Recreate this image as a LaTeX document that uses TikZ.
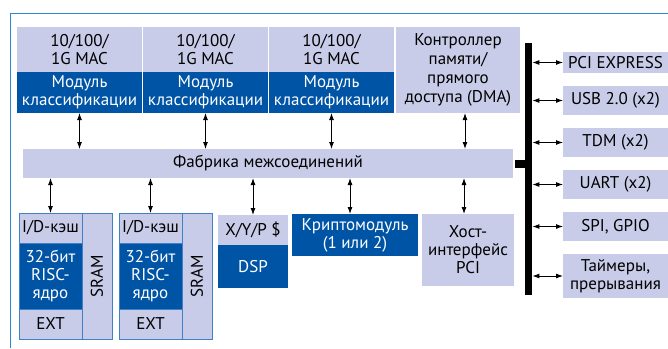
\documentclass[tikz,border=0pt]{standalone}
\usepackage{fontspec}
\setmainfont{PT Sans}
\usetikzlibrary{calc,arrows.meta}
\definecolor{lightblk}{HTML}{C8CCE8}
\definecolor{darkblk}{HTML}{0054A6}
\definecolor{edgeblk}{HTML}{3F80C6}
\definecolor{framecol}{HTML}{2E88CC}
\tikzset{
  blk/.style={anchor=north west, inner sep=0pt, outer sep=0pt, align=center, font=\fontsize{17}{18}\selectfont},
  light/.style={blk, fill=lightblk, text=black},
  dark/.style={blk, fill=darkblk, text=white},
  cpu/.style={draw=edgeblk, line width=0.9pt},
  link/.style={{Latex[length=7pt,width=5pt]}-{Latex[length=7pt,width=5pt]}, line width=0.9pt}
}

\begin{document}
\begin{tikzpicture}[x=1pt,y=-1pt]
  \useasboundingbox (0,0) rectangle (668,348);
  \draw[framecol, line width=0.9pt] (10,348) -- (10,13) -- (668,13);
  % MAC blocks
  \node[light, minimum width=125, minimum height=45] (mac1) at (17,27) {10/100/\\1G MAC};
  \node[dark, minimum width=125, minimum height=41] (cls1) at (17,72) {Модуль\\классификации};
  \node[light, minimum width=125, minimum height=45] (mac2) at (143,27) {10/100/\\1G MAC};
  \node[dark, minimum width=125, minimum height=41] (cls2) at (143,72) {Модуль\\классификации};
  \node[light, minimum width=125, minimum height=45] (mac3) at (269,27) {10/100/\\1G MAC};
  \node[dark, minimum width=125, minimum height=41] (cls3) at (269,72) {Модуль\\классификации};
  \node[light, minimum width=124, minimum height=86, font=\fontsize{17}{19}\selectfont] (dma) at (396,27) {Контроллер\\памяти/\\прямого\\доступа (DMA)};
  % fabric and bus
  \node[light, minimum width=490, minimum height=29] (fab) at (23,149) {Фабрика межсоединений};
  \node[fill=black, anchor=north west, inner sep=0pt, minimum width=7, minimum height=252] (bus) at (525,43) {};
  \fill (515,160) rectangle (525,168);
  % CPU blocks
  \node[light, cpu, minimum width=63, minimum height=30] (cache1) at (19,213) {I/D-кэш};
  \node[dark, cpu, minimum width=63, minimum height=66] (core1) at (19,243) {32-бит\\RISC-\\ядро};
  \node[light, cpu, minimum width=63, minimum height=30] (ext1) at (19,309) {EXT};
  \node[light, cpu, minimum width=30, minimum height=126] (sram1) at (82,213) {};
  \node[rotate=90, font=\fontsize{17}{18}\selectfont] at (sram1.center) {SRAM};
  \node[light, cpu, minimum width=63, minimum height=30] (cache2) at (119,213) {I/D-кэш};
  \node[dark, cpu, minimum width=63, minimum height=66] (core2) at (119,243) {32-бит\\RISC-\\ядро};
  \node[light, cpu, minimum width=63, minimum height=30] (ext2) at (119,309) {EXT};
  \node[light, cpu, minimum width=30, minimum height=126] (sram2) at (182,213) {};
  \node[rotate=90, font=\fontsize{17}{18}\selectfont] at (sram2.center) {SRAM};
  % DSP, crypto, host
  \node[light, minimum width=70, minimum height=30] (xyp) at (218,215) {X/Y/P \$};
  \node[dark, minimum width=70, minimum height=43] (dsp) at (218,245) {DSP};
  \node[dark, minimum width=126, minimum height=42] (crypto) at (292,214) {Криптомодуль\\(1 или 2)};
  \node[light, minimum width=92, minimum height=72] (host) at (422,214) {Хост-\\интерфейс\\PCI};
  % peripherals
  \node[light, minimum width=105, minimum height=21] (pcie) at (563,52) {PCI EXPRESS};
  \node[light, minimum width=105, minimum height=29] (usb) at (563,86) {USB 2.0 (x2)};
  \node[light, minimum width=105, minimum height=29] (tdm) at (563,128) {TDM (x2)};
  \node[light, minimum width=105, minimum height=29] (uart) at (563,170) {UART (x2)};
  \node[light, minimum width=105, minimum height=29] (spi) at (563,212) {SPI, GPIO};
  \node[light, minimum width=105, minimum height=44] (timer) at (563,254) {Таймеры,\\прерывания};
  % links
  \draw[link] (cls1.south) -- (cls1.south |- fab.north);
  \draw[link] (cls2.south) -- (cls2.south |- fab.north);
  \draw[link] (cls3.south) -- (cls3.south |- fab.north);
  \draw[link] ([xshift=7]dma.south) -- ([xshift=7]dma.south |- fab.north);
  \draw[link] (cache1.north |- fab.south) -- (cache1.north);
  \draw[link] (cache2.north |- fab.south) -- (cache2.north);
  \draw[link] (xyp.north |- fab.south) -- (xyp.north);
  \draw[link] ([xshift=-5]crypto.north |- fab.south) -- ([xshift=-5]crypto.north);
  \draw[link] ([xshift=-4]host.north |- fab.south) -- ([xshift=-4]host.north);
  \draw[link] (bus.east |- pcie.west) -- (pcie.west);
  \draw[link] (bus.east |- usb.west) -- (usb.west);
  \draw[link] (bus.east |- tdm.west) -- (tdm.west);
  \draw[link] (bus.east |- uart.west) -- (uart.west);
  \draw[link] (bus.east |- spi.west) -- (spi.west);
  \draw[link] (bus.east |- timer.west) -- (timer.west);
\end{tikzpicture}
\end{document}
